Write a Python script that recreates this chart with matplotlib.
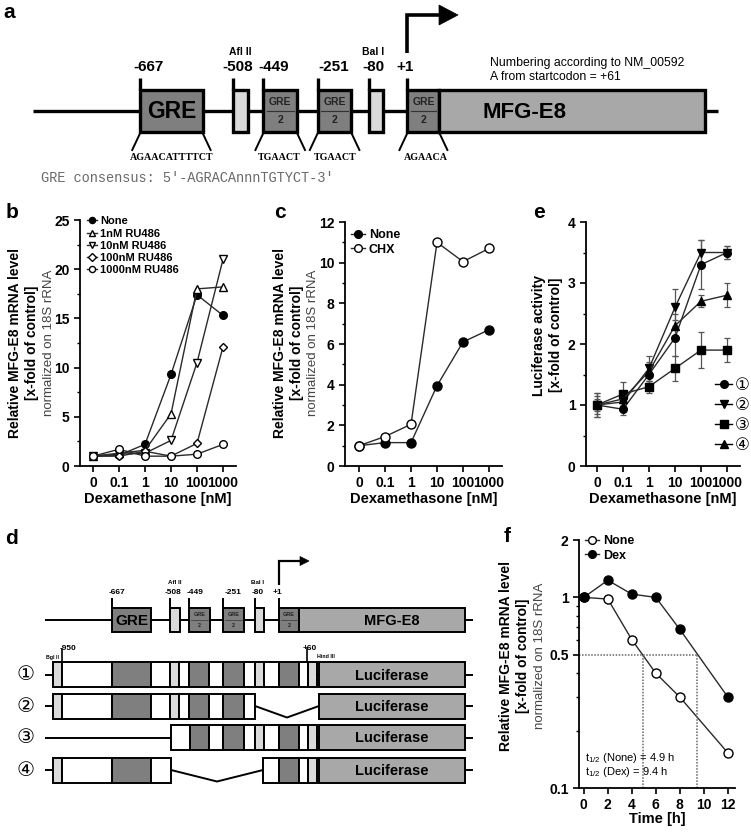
"""MFG-E8 promoter figure: gene maps (a, d) and dose / decay plots (b, c, e, f)."""

import matplotlib
matplotlib.use('Agg')
import matplotlib.pyplot as plt
from matplotlib.patches import Rectangle, Polygon
from matplotlib.lines import Line2D
from matplotlib.ticker import FixedLocator, NullFormatter

W, H = 751, 832

plt.rcParams.update({
    'font.family': ['Liberation Sans', 'DejaVu Sans', 'Noto Sans CJK JP'],
    'font.weight': 'bold',
    'axes.labelweight': 'bold',
    'mathtext.default': 'regular',
    'axes.linewidth': 1.3,
    'xtick.major.width': 1.2,
    'ytick.major.width': 1.2,
    'xtick.minor.width': 1.0,
    'ytick.minor.width': 1.0,
    'xtick.major.size': 4,
    'ytick.major.size': 4,
    'ytick.minor.size': 2.5,
    'xtick.labelsize': 10,
    'ytick.labelsize': 10,
})

# ---------------- data ----------------
DOSE_LABELS = ['0', '0.1', '1', '10', '100', '1000']

B_LABELS = ['None', '1nM RU486', '10nM RU486', '100nM RU486', '1000nM RU486']
B_NONE = [1.0, 1.1, 2.2, 9.3, 17.4, 15.3]
B_RU1 = [1.0, 1.3, 1.6, 5.3, 18.0, 18.2]
B_RU10 = [1.0, 1.2, 1.3, 2.6, 10.5, 21.0]
B_RU100 = [1.0, 1.0, 1.5, 1.0, 2.3, 12.1]
B_RU1000 = [1.0, 1.7, 1.0, 1.0, 1.2, 2.2]

C_LABELS = ['None', 'CHX']
C_NONE = [1.0, 1.15, 1.15, 3.95, 6.1, 6.7]
C_CHX = [1.0, 1.45, 2.05, 11.0, 10.05, 10.7]

E_LABELS = ['\u2460', '\u2461', '\u2462', '\u2463']
E_MEAN_1 = [1.0, 0.93, 1.5, 2.1, 3.3, 3.5]
E_ERR_1 = [0.2, 0.1, 0.15, 0.3, 0.4, 0.1]
E_MEAN_2 = [1.0, 1.05, 1.6, 2.6, 3.5, 3.5]
E_ERR_2 = [0.15, 0.1, 0.2, 0.3, 0.2, 0.1]
E_MEAN_3 = [1.0, 1.18, 1.3, 1.6, 1.9, 1.9]
E_ERR_3 = [0.2, 0.2, 0.1, 0.2, 0.3, 0.2]
E_MEAN_4 = [1.0, 1.1, 1.55, 2.3, 2.7, 2.8]
E_ERR_4 = [0.1, 0.1, 0.15, 0.2, 0.1, 0.2]

F_LABELS = ['None', 'Dex']
F_TIME = [0, 2, 4, 6, 8, 12]
F_TICKS = [0, 2, 4, 6, 8, 10, 12]
F_NONE = [1.0, 0.98, 0.60, 0.40, 0.30, 0.153]
F_DEX = [1.0, 1.23, 1.04, 1.0, 0.68, 0.30]
F_HALF_NONE = 4.9
F_HALF_DEX = 9.4

# gene map, in map units (panel d: 1 unit = 1 px)
TONES = {'dark': '#7f7f7f', 'mid': '#a8a8a8', 'light': '#dadada', 'white': 'white'}
GENE_END = 428
GENE_BOXES = [
    ('GRE', 67, 106, 'dark'),
    ('', 125, 134.5, 'light'),
    ('GRE2', 144, 165, 'dark'),
    ('GRE2', 178, 199, 'dark'),
    ('', 210, 219, 'light'),
    ('GRE2', 234, 254, 'dark'),
    ('MFG-E8', 254, 420, 'mid'),
]
SITE_TICKS = [67, 125, 144, 178, 210, 234]
SITE_LABELS = ['-667', '-508', '-449', '-251', '-80', '+1']
SITE_LABEL_POS = [72, 128, 150.5, 188, 212.5, 232.5]
ENZYMES = ['Afl II', 'Bal I']
ENZYME_POS = [129.5, 212.5]
GRE_SEQS = ['AGAACATTTTCT', 'TGAACT', 'TGAACT', 'AGAACA']
GRE_SEQ_BOX = [0, 2, 3, 5]
GRE_SEQ_POS = [87, 154, 189, 245.5]

CONSTRUCT_ROWS = [
    [(8, 17, 'light'), (17, 67, 'white'), (67, 106, 'dark'), (106, 125, 'white'),
     (125, 134, 'light'), (134, 144, 'white'), (144, 164, 'dark'), (164, 178, 'white'),
     (178, 199, 'dark'), (199, 210, 'white'), (210, 219, 'light'), (219, 234, 'white'),
     (234, 254, 'dark'), (254, 263, 'white'), (263, 272, 'light')],
    [(8, 17, 'light'), (17, 67, 'white'), (67, 106, 'dark'), (106, 125, 'white'),
     (125, 134, 'light'), (134, 144, 'white'), (144, 164, 'dark'), (164, 178, 'white'),
     (178, 199, 'dark'), (199, 210, 'white')],
    [(126, 145, 'white'), (145, 164, 'dark'), (164, 178, 'white'),
     (178, 199, 'dark'), (199, 210, 'white'), (210, 219, 'light'), (219, 234, 'white'),
     (234, 254, 'dark'), (254, 263, 'white'), (263, 272, 'light')],
    [(8, 17, 'light'), (17, 67, 'white'), (67, 106, 'dark'), (106, 126, 'white'),
     (218, 234, 'white'), (234, 254, 'dark'), (254, 263, 'white'), (263, 272, 'light')],
]
ROW_GAPS = [None, (210, 274), None, (126, 218)]
ROW_NAMES = ['\u2460', '\u2461', '\u2462', '\u2463']
LUC_BOX = (274, 420)

CIRCLED_FONT = ['DejaVu Sans', 'Noto Sans CJK JP']


def rect(l, t, r, b):
    return [l / W, 1 - b / H, (r - l) / W, (b - t) / H]


def draw_gene_map(ax, x0, s, yc, hh, st):
    X = lambda u: x0 + s * u
    lw = st['lw']
    ax.plot([X(0), X(GENE_END)], [yc, yc], color='k', lw=lw, solid_capstyle='butt', zorder=1)
    for name, u0, u1, tone in GENE_BOXES:
        ax.add_patch(Rectangle((X(u0), yc - hh), s * (u1 - u0), 2 * hh, fc=TONES[tone],
                               ec='k', lw=lw, joinstyle='miter', zorder=2))
        xc = X((u0 + u1) / 2)
        if name == 'GRE':
            ax.text(xc, yc + 1, 'GRE', fontsize=st['gre_fs'], ha='center', va='center', zorder=3)
        elif name == 'GRE2':
            ax.text(xc, yc - hh * 0.42, 'GRE', fontsize=st['gre2_fs'], color='#222222',
                    ha='center', va='center', zorder=3)
            ax.plot([X(u0) + 2 * s, X(u1) - 2 * s], [yc, yc], color='#333333',
                    lw=lw * 0.35, zorder=3)
            ax.text(xc, yc + hh * 0.45, '2', fontsize=st['gre2_fs'], color='#222222',
                    ha='center', va='center', zorder=3)
        elif name == 'MFG-E8':
            ax.text(X(st['mfg_u']), yc + 1, 'MFG-E8', fontsize=st['mfg_fs'],
                    ha='center', va='center', zorder=3)
    for u in SITE_TICKS:
        ax.plot([X(u), X(u)], [yc - hh, st['tick_top']], color='k', lw=lw,
                solid_capstyle='butt', zorder=1)
    for lab, u in zip(SITE_LABELS, SITE_LABEL_POS):
        ax.text(X(u), st['label_y'], lab, fontsize=st['label_fs'], ha='center', va='center')
    for lab, u in zip(ENZYMES, ENZYME_POS):
        ax.text(X(u), st['enzyme_y'], lab, fontsize=st['enzyme_fs'], ha='center', va='center')
    # transcription start arrow
    xa = X(SITE_TICKS[-1])
    ay = st['arrow_y']
    ax.plot([xa, xa, st['arrow_head'][0]], [st['arrow_bottom'], ay, ay], color='k',
            lw=st['arrow_lw'], solid_joinstyle='miter', solid_capstyle='butt')
    h0, h1, hw = st['arrow_head']
    ax.add_patch(Polygon([(h0, ay - hw), (h1, ay), (h0, ay + hw)], closed=True, fc='k', ec='k', lw=0.5))


fig = plt.figure(figsize=(W / 100, H / 100), dpi=100)
ax0 = fig.add_axes([0, 0, 1, 1])
ax0.set_xlim(0, W)
ax0.set_ylim(H, 0)
ax0.axis('off')

# ---------------- panel a ----------------
A_STYLE = dict(lw=2.4, gre_fs=16.5, gre2_fs=7.5, mfg_fs=16, mfg_u=307, label_fs=11,
               enzyme_fs=7.5, tick_top=78, label_y=67, enzyme_y=52, arrow_bottom=53,
               arrow_y=15, arrow_lw=2.6, arrow_head=(439, 458, 10))
draw_gene_map(ax0, 33, 1.6, 111, 21, A_STYLE)
for seq, bi, u in zip(GRE_SEQS, GRE_SEQ_BOX, GRE_SEQ_POS):
    _, u0, u1, _ = GENE_BOXES[bi]
    x0, x1 = 33 + 1.6 * u0, 33 + 1.6 * u1
    ax0.plot([x0, x0 - 8], [133, 150], color='k', lw=1.4)
    ax0.plot([x1, x1 + 8], [133, 150], color='k', lw=1.4)
    ax0.text(33 + 1.6 * u, 157, seq, fontsize=7.2, family='Liberation Serif',
             ha='center', va='center')
ax0.text(490, 63, 'Numbering according to NM_00592', fontsize=8.8, weight='normal',
         ha='left', va='center')
ax0.text(490, 77, 'A from startcodon = +61', fontsize=8.8, weight='normal',
         ha='left', va='center')
ax0.text(41, 178, "GRE consensus: 5'-AGRACAnnnTGTYCT-3'", fontsize=9.8,
         family='Liberation Mono', weight='normal', color='#6a6a6a', ha='left', va='center')

# ---------------- panel d ----------------
D_STYLE = dict(lw=1.4, gre_fs=11, gre2_fs=4, mfg_fs=10.5, mfg_u=347, label_fs=6,
               enzyme_fs=4.5, tick_top=598, label_y=593, enzyme_y=583, arrow_bottom=585,
               arrow_y=561, arrow_lw=1.6, arrow_head=(300, 309, 4.5))
draw_gene_map(ax0, 45, 1.0, 620, 12, D_STYLE)

ROW_Y = [674.5, 706, 737.5, 770]
DX = 45
for row, gap, yc, name in zip(CONSTRUCT_ROWS, ROW_GAPS, ROW_Y, ROW_NAMES):
    hh = 12.5
    start = row[0][0]
    ax0.plot([DX + 0, DX + start], [yc, yc], color='k', lw=1.4, solid_capstyle='butt', zorder=1)
    ax0.plot([DX + LUC_BOX[1], DX + GENE_END], [yc, yc], color='k', lw=1.4,
             solid_capstyle='butt', zorder=1)
    if gap is None:
        ax0.plot([DX + row[-1][1], DX + LUC_BOX[0]], [yc, yc], color='k', lw=1.4, zorder=1)
    else:
        g0, g1 = gap
        ax0.plot([DX + g0, DX + (g0 + g1) / 2, DX + g1], [yc, yc + 11.5, yc],
                 color='k', lw=1.4, zorder=1)
    for u0, u1, tone in row:
        ax0.add_patch(Rectangle((DX + u0, yc - hh), u1 - u0, 2 * hh, fc=TONES[tone],
                                ec='k', lw=1.4, joinstyle='miter', zorder=2))
    ax0.add_patch(Rectangle((DX + LUC_BOX[0], yc - hh), LUC_BOX[1] - LUC_BOX[0], 2 * hh,
                            fc=TONES['mid'], ec='k', lw=1.4, joinstyle='miter', zorder=2))
    ax0.text(DX + (LUC_BOX[0] + LUC_BOX[1]) / 2, yc + 1, 'Luciferase', fontsize=10.5,
             ha='center', va='center', zorder=3)
    ax0.text(26, yc, name, fontsize=14.5, family=CIRCLED_FONT, weight='normal',
             ha='center', va='center')

ax0.plot([62, 62], [649, 662], color='k', lw=1.2)
ax0.text(68, 648, '-950', fontsize=6, ha='center', va='center')
ax0.text(52, 657, 'Bgl II', fontsize=3.8, ha='center', va='center')
ax0.plot([307, 307], [649, 662], color='k', lw=1.2)
ax0.text(310, 648, '+60', fontsize=6, ha='center', va='center')
ax0.text(317, 657, 'Hind III', fontsize=3.8, ha='left', va='center')

# ---------------- panel labels and y labels ----------------
for lab, x, y in [('a', 9, 13), ('b', 12, 212), ('c', 280, 212), ('e', 539, 212),
                  ('d', 12, 539), ('f', 507, 537)]:
    ax0.text(x, y, lab, fontsize=15, ha='center', va='center')


def ylabel_block(xs, yc, lines):
    for x, (txt, weight, size, color) in zip(xs, lines):
        ax0.text(x, yc, txt, rotation=90, fontsize=size, weight=weight, color=color,
                 ha='center', va='center')


MRNA_LINES = [('Relative MFG-E8 mRNA level', 'bold', 10, 'k'),
              ('[x-fold of control]', 'bold', 10, 'k'),
              ('normalized on 18S rRNA', 'normal', 9.5, '#444444')]
ylabel_block([15, 32, 49], 343, MRNA_LINES)
ylabel_block([280, 297, 313], 343, MRNA_LINES)
ylabel_block([539, 556], 335, [('Luciferase activity', 'bold', 10, 'k'),
                              ('[x-fold of control]', 'bold', 10, 'k')])
ylabel_block([506, 523, 540], 656, MRNA_LINES)


def style_axes(ax):
    ax.patch.set_alpha(0)
    ax.spines['top'].set_visible(False)
    ax.spines['right'].set_visible(False)
    ax.tick_params(direction='out')
    ax.tick_params(axis='x', which='minor', bottom=False)


LINE_KW = dict(color='#2a2a2a', lw=1.0)
pos = list(range(len(DOSE_LABELS)))

# ---------------- panel b ----------------
axb = fig.add_axes(rect(80, 220, 236, 466))
style_axes(axb)
b_styles = [('o', 'k', 5.5), ('^', 'white', 5.5), ('v', 'white', 5.5),
            ('D', 'white', 4.5), ('o', 'white', 5.5)]
for vals, lab, (m, fc, ms) in zip([B_NONE, B_RU1, B_RU10, B_RU100, B_RU1000], B_LABELS, b_styles):
    axb.plot(pos, vals, marker=m, mfc=fc, mec='k', ms=ms, mew=1.0, label=lab, **LINE_KW)
axb.set_xlim(-0.5, 5.5)
axb.set_ylim(0, 25)
axb.set_xticks(pos, DOSE_LABELS)
axb.set_yticks([0, 5, 10, 15, 20, 25])
axb.yaxis.set_minor_locator(FixedLocator([2.5, 7.5, 12.5, 17.5, 22.5]))
axb.set_xlabel('Dexamethasone [nM]', fontsize=10.5, labelpad=1)
axb.legend(loc='upper left', bbox_to_anchor=(0.045, 1.015), frameon=False, fontsize=8,
           handlelength=0.9, handletextpad=0.3, labelspacing=0.2, borderpad=0,
           borderaxespad=0, markerscale=0.8)

# ---------------- panel c ----------------
axc = fig.add_axes(rect(345, 222, 502, 466))
style_axes(axc)
axc.plot(pos, C_NONE, marker='o', mfc='k', mec='k', ms=6.5, label=C_LABELS[0], **LINE_KW)
axc.plot(pos, C_CHX, marker='o', mfc='white', mec='k', ms=6.5, mew=1.0, label=C_LABELS[1], **LINE_KW)
axc.set_xlim(-0.54, 5.5)
axc.set_ylim(0, 12)
axc.set_xticks(pos, DOSE_LABELS)
axc.set_yticks(range(0, 13, 2))
axc.yaxis.set_minor_locator(FixedLocator([1, 3, 5, 7, 9, 11]))
axc.set_xlabel('Dexamethasone [nM]', fontsize=10.5, labelpad=1)
axc.legend(loc='upper left', bbox_to_anchor=(0.04, 0.97), frameon=False, fontsize=9,
           handlelength=1.1, handletextpad=0.3, labelspacing=0.2, borderpad=0,
           borderaxespad=0, markerscale=0.85)

# ---------------- panel e ----------------
axe = fig.add_axes(rect(586, 222, 740, 466))
style_axes(axe)
e_markers = ['o', 'v', 's', '^']
for mean, err, m, lab in zip([E_MEAN_1, E_MEAN_2, E_MEAN_3, E_MEAN_4],
                             [E_ERR_1, E_ERR_2, E_ERR_3, E_ERR_4], e_markers, E_LABELS):
    axe.errorbar(pos, mean, yerr=err, marker=m, mfc='k', mec='k', ms=5.5,
                 capsize=2.5, elinewidth=0.9, capthick=0.9, ecolor='#555555', label=lab, **LINE_KW)
axe.set_xlim(-0.42, 5.5)
axe.set_ylim(0, 4)
axe.set_xticks(pos, DOSE_LABELS)
axe.set_yticks([0, 1, 2, 3, 4])
axe.yaxis.set_minor_locator(FixedLocator([0.5, 1.5, 2.5, 3.5]))
axe.set_xlabel('Dexamethasone [nM]', fontsize=10.5, labelpad=1)
handles = [Line2D([], [], marker=m, color='k', mfc='k', ms=5.5, lw=1.0) for m in e_markers]
leg = axe.legend(handles, E_LABELS, loc='lower right', bbox_to_anchor=(1.06, 0.05),
                 frameon=False, handlelength=1.0, handletextpad=0.15, labelspacing=0.12,
                 borderpad=0, borderaxespad=0, prop={'family': CIRCLED_FONT, 'size': 12,
                                                     'weight': 'normal'})

# ---------------- panel f ----------------
axf = fig.add_axes(rect(579, 540, 735, 788))
style_axes(axf)
axf.set_yscale('log')
axf.plot(F_TIME, F_NONE, marker='o', mfc='white', mec='k', ms=6.5, mew=1.0, label=F_LABELS[0], **LINE_KW)
axf.plot(F_TIME, F_DEX, marker='o', mfc='k', mec='k', ms=6.5, label=F_LABELS[1], **LINE_KW)
axf.set_xlim(-0.4, 12.6)
axf.set_ylim(0.1, 2)
axf.set_xticks(F_TICKS)
axf.set_yticks([0.1, 0.5, 1, 2], ['0.1', '0.5', '1', '2'])
axf.yaxis.set_minor_locator(FixedLocator([0.2, 0.3, 0.4, 0.6, 0.7, 0.8, 0.9]))
axf.yaxis.set_minor_formatter(NullFormatter())
dot = dict(color='#666666', lw=1.1, ls=(0, (1, 1)))
axf.plot([-0.4, F_HALF_DEX], [0.5, 0.5], **dot)
axf.plot([F_HALF_NONE, F_HALF_NONE], [0.1, 0.5], **dot)
axf.plot([F_HALF_DEX, F_HALF_DEX], [0.1, 0.5], **dot)
axf.text(0.1, 0.144, r'$t_{1/2}$ (None) = %.1f h' % F_HALF_NONE, fontsize=8, weight='normal',
         ha='left', va='center')
axf.text(0.1, 0.121, r'$t_{1/2}$ (Dex) = %.1f h' % F_HALF_DEX, fontsize=8, weight='normal',
         ha='left', va='center')
axf.set_xlabel('Time [h]', fontsize=10.5, labelpad=0)
axf.legend(loc='upper left', bbox_to_anchor=(0.04, 1.02), frameon=False, fontsize=9,
           handlelength=1.1, handletextpad=0.3, labelspacing=0.2, borderpad=0,
           borderaxespad=0, markerscale=0.85)

fig.savefig('out.png', dpi=100)
